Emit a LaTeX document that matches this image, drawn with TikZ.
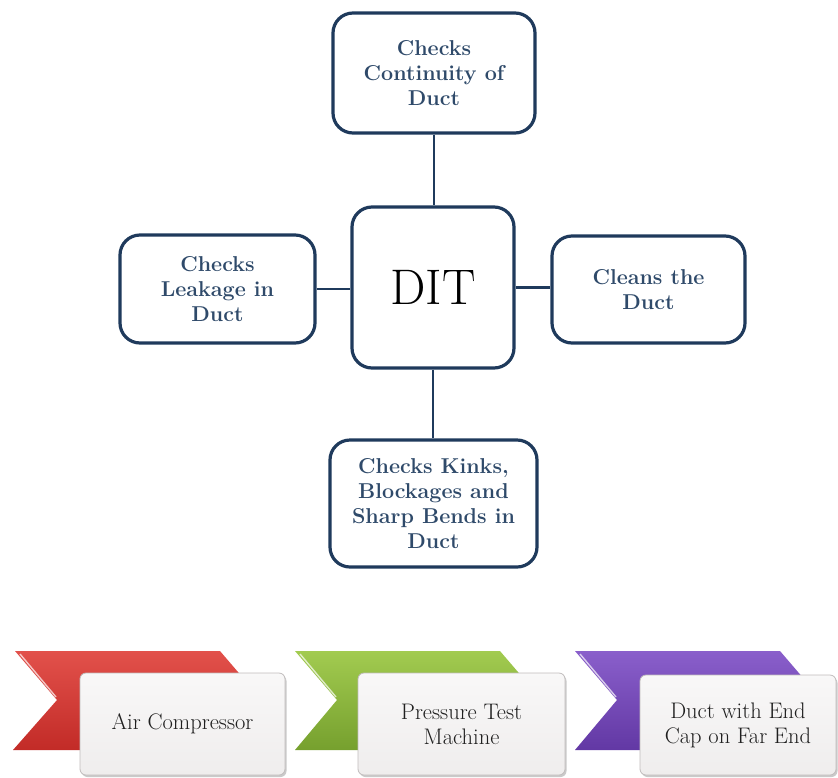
\documentclass[tikz,border=0pt]{standalone}
\usepackage{fontspec}
\usetikzlibrary{shadows}
\definecolor{boxline}{HTML}{1F3A5C}
\definecolor{boxtext}{HTML}{2F4A6A}
\definecolor{redtop}{HTML}{E2514B}
\definecolor{redbot}{HTML}{C22B27}
\definecolor{grntop}{HTML}{A2CB50}
\definecolor{grnbot}{HTML}{76A02E}
\definecolor{purtop}{HTML}{8A5FCB}
\definecolor{purbot}{HTML}{6238A4}
\definecolor{cardfill}{HTML}{EFEDED}
\definecolor{cardline}{HTML}{C0BCBC}
\begin{document}
\begin{tikzpicture}[x=1pt,y=-1pt,
  ibox/.style={draw=boxline, line width=3.2pt, rounded corners=20pt, fill=white,
    align=center, font=\fontsize{21.5}{25}\selectfont\bfseries, text=boxtext, inner sep=0pt},
  card/.style={draw=cardline, line width=0.8pt, rounded corners=6pt,
    top color=white!60!cardfill, bottom color=cardfill, align=center,
    font=\fontsize{22.5}{25}\selectfont, text=black!88, inner sep=0pt,
    general shadow={fill=black!35, shadow xshift=1.5pt, shadow yshift=-2pt, opacity=0.6}},
  link/.style={draw=boxline, line width=2.5pt},
  hilite/.style={draw=white, line width=1.4pt, opacity=0.7}
]
\useasboundingbox (0,0) rectangle (838,777);

% central diagram
\node[ibox, minimum width=162pt, minimum height=161pt, font=\fontsize{50}{56}\selectfont, text=black] (dit) at (433,287.5) {DIT};
\node[ibox, minimum width=202pt, minimum height=120pt] (top) at (434,73) {Checks\\Continuity of\\Duct};
\node[ibox, minimum width=195pt, minimum height=108pt] (left) at (217.5,289) {Checks\\Leakage in\\Duct};
\node[ibox, minimum width=193pt, minimum height=107pt] (right) at (648.5,289.5) {Cleans the\\Duct};
\node[ibox, minimum width=207pt, minimum height=127pt] (bot) at (433.5,503.5) {Checks Kinks,\\Blockages and\\Sharp Bends in\\Duct};

\draw[link] (top.south) -- (top.south |- dit.north);
\draw[link] (dit.south) -- (dit.south |- bot.north);
\draw[link] (left.east) -- (left.east -| dit.west);
\draw[link] (dit.east) -- (dit.east -| right.west);

% chevrons
\shade[top color=redtop, bottom color=redbot]
  (15,651) -- (220,651) -- (262,700) -- (220,750) -- (13,750) -- (57,700) -- cycle;
\draw[hilite] (20,654) -- (56,697);
\shade[top color=grntop, bottom color=grnbot]
  (295,651) -- (500,651) -- (542,700) -- (500,750) -- (295,750) -- (337,700) -- cycle;
\draw[hilite] (300,654) -- (336,697);
\shade[top color=purtop, bottom color=purbot]
  (575,651) -- (780,651) -- (822,700) -- (780,750) -- (575,750) -- (617,700) -- cycle;
\draw[hilite] (580,654) -- (616,697);

% cards
\node[card, minimum width=205pt, minimum height=102pt] (c1) at (182.5,724) {Air Compressor};
\node[card, minimum width=207pt, minimum height=102pt] (c2) at (461.5,724) {Pressure Test\\Machine};
\node[card, minimum width=196pt, minimum height=100pt] (c3) at (738,725) {Duct with End\\Cap on Far End};
\end{tikzpicture}
\end{document}
